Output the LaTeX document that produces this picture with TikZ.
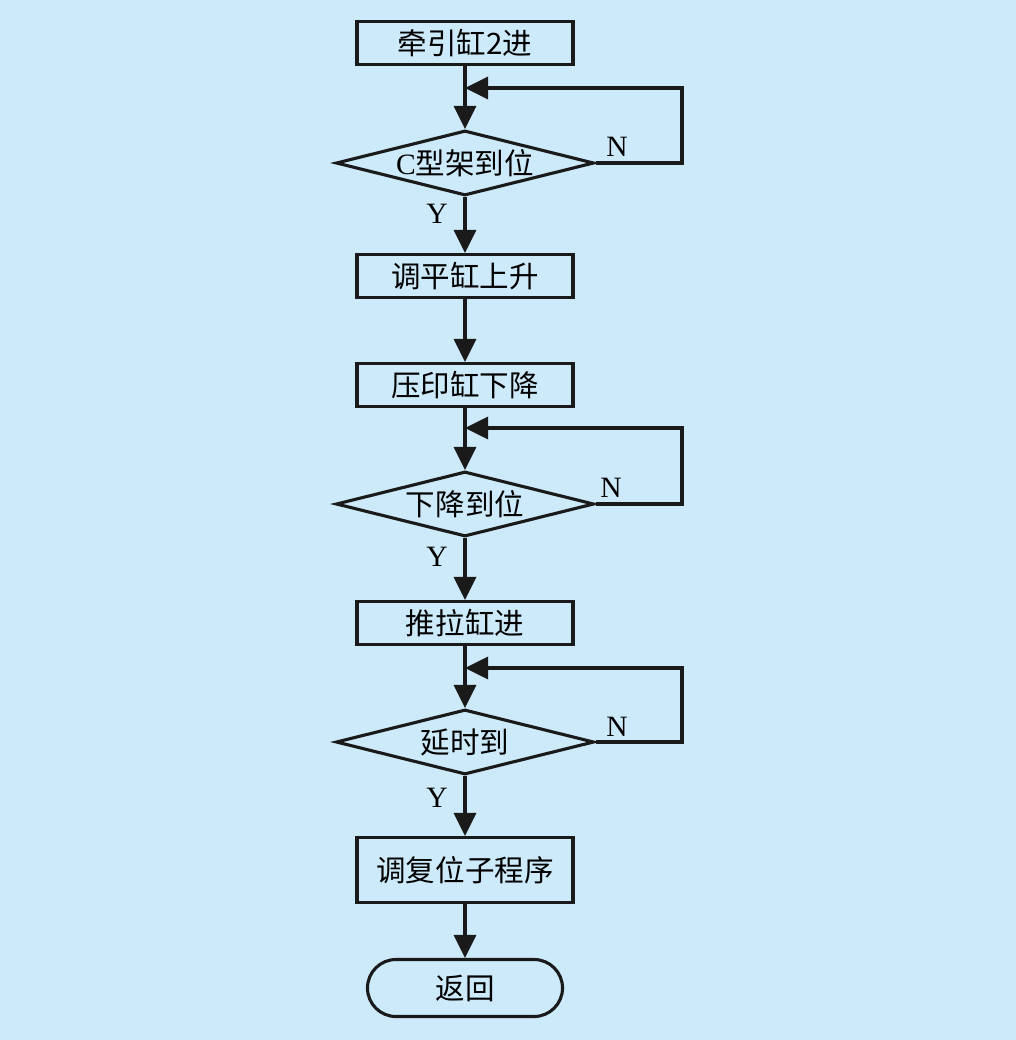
\documentclass[tikz,border=0pt]{standalone}
\usepackage{fontspec}
\usepackage{tikz}
\usetikzlibrary{shapes.geometric,shapes.misc,arrows.meta}
\setmainfont{Liberation Serif}
\newfontfamily\cjk{Noto Sans CJK SC}
\definecolor{bgblue}{RGB}{204,234,250}
\definecolor{ink}{RGB}{26,26,26}

\begin{document}
\begin{tikzpicture}[x=0.025cm,y=-0.025cm,
		font=\fontsize{21}{24}\selectfont,
		box/.style={draw=ink,line width=2.2pt,rectangle,minimum width=5.4cm,minimum height=1.075cm,inner sep=0pt},
		decision/.style={draw=ink,line width=2.2pt,diamond,aspect=4,minimum width=6.45cm,minimum height=1.625cm,inner sep=0pt},
		terminal/.style={draw=ink,line width=2.2pt,rounded rectangle,minimum width=4.875cm,minimum height=1.425cm,inner sep=0pt},
		arr/.style={draw=ink,line width=2.2pt,-{Triangle[length=0.575cm,width=0.55cm]}},
		yn/.style={font=\fontsize{21}{24}\selectfont}]
		\fill[bgblue] (0,0) rectangle (1016,1040);
		\useasboundingbox (0,0) rectangle (1016,1040);
		% blocks
		\node[box] (pull) at (465,43) {\cjk 牵引缸2进};
		\node[decision] (frame) at (465,163) {C\cjk 型架到位};
		\node[box] (level) at (465,276) {\cjk 调平缸上升};
		\node[box] (press) at (465,385) {\cjk 压印缸下降};
		\node[decision] (down) at (465,504) {\cjk 下降到位};
		\node[box] (push) at (465,623) {\cjk 推拉缸进};
		\node[decision] (delay) at (465,742) {\cjk 延时到};
		\node[box,minimum height=1.625cm] (reset) at (465,870) {\cjk 调复位子程序};
		\node[terminal] (ret) at (465,988) {\cjk 返回};
		% loop joints on the trunk
		\coordinate (j1) at (465,88);
		\coordinate (j2) at (465,428);
		\coordinate (j3) at (465,668);
		% main flow
		\draw[arr] (pull.south) -- (frame.north);
		\draw[arr] (frame.south) -- (level.north);
		\draw[arr] (level.south) -- (press.north);
		\draw[arr] (press.south) -- (down.north);
		\draw[arr] (down.south) -- (push.north);
		\draw[arr] (push.south) -- (delay.north);
		\draw[arr] (delay.south) -- (reset.north);
		\draw[arr] (reset.south) -- (ret.north);
		% N loops
		\draw[arr] (frame.east) -- (682,163) |- (j1);
		\draw[arr] (down.east) -- (682,504) |- (j2);
		\draw[arr] (delay.east) -- (682,742) |- (j3);
		% labels
		\node[yn] (n1) at (617,147) {N};
		\node[yn] (n2) at (611,488) {N};
		\node[yn] (n3) at (617,727) {N};
		\node[yn] (y1) at (437,214) {Y};
		\node[yn] (y2) at (437,557) {Y};
		\node[yn] (y3) at (437,798) {Y};
	\end{tikzpicture}
\end{document}
